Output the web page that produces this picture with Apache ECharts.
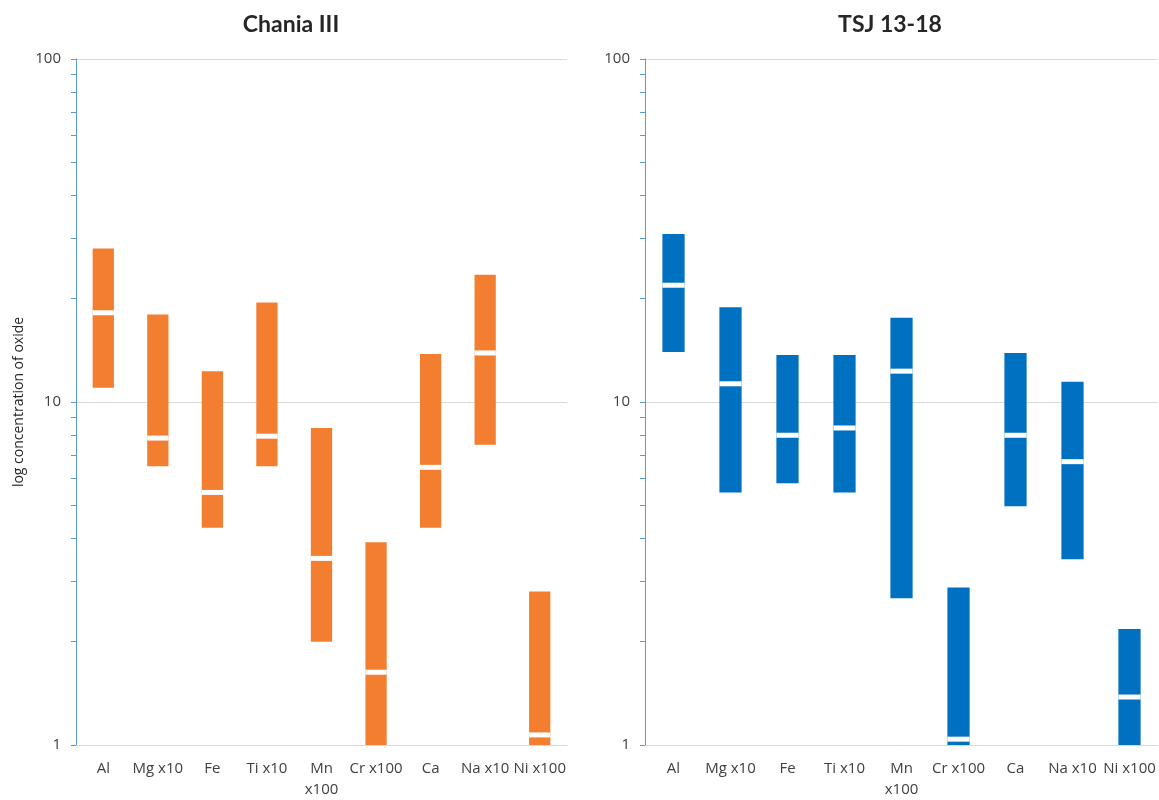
<!DOCTYPE html>
<html>
<head>
<meta charset="utf-8">
<script src="https://cdn.jsdelivr.net/npm/echarts@6/dist/echarts.min.js"></script>
<style>
  html, body { margin: 0; padding: 0; background: #fff; }
  #chart { width: 1159px; height: 800px; }
</style>
</head>
<body>
<div id="chart"></div>
<script>
const categories = ['Al', 'Mg x10', 'Fe', 'Ti x10', 'Mn\nx100', 'Cr x100', 'Ca', 'Na x10', 'Ni x100'];

// Chania III: min, middle mark, max
const chaniaLow  = [11.0, 6.5, 4.3, 6.5, 2.0, 1.0, 4.3, 7.5, 1.0];
const chaniaMid  = [18.2, 7.85, 5.45, 7.95, 3.5, 1.63, 6.45, 13.9, 1.07];
const chaniaHigh = [28.0, 18.0, 12.3, 19.5, 8.4, 3.9, 13.8, 23.5, 2.8];

// TSJ 13-18: min, middle mark, max
const tsjLow  = [14.0, 5.45, 5.8, 5.45, 2.68, 1.0, 4.97, 3.48, 1.0];
const tsjMid  = [21.9, 11.3, 8.0, 8.4, 12.3, 1.04, 8.0, 6.7, 1.38];
const tsjHigh = [30.9, 18.9, 13.7, 13.7, 17.6, 2.88, 13.9, 11.45, 2.18];

// minor + major tick positions on the log axis
const yTicks = [1, 2, 3, 4, 5, 6, 7, 8, 9, 10, 20, 30, 40, 50, 60, 70, 80, 90, 100];

const FONT = '"Open Sans", sans-serif';

function rows(low, mid, high) {
  return categories.map((c, i) => [i, low[i], mid[i], high[i]]);
}

function rangeRenderer(color) {
  return function (params, api) {
    const x = api.value(0);
    const lo = api.coord([x, api.value(1)]);
    const md = api.coord([x, api.value(2)]);
    const hi = api.coord([x, api.value(3)]);
    const w = api.size([1, 1])[0] * 0.39;
    return {
      type: 'group',
      children: [
        { type: 'rect', shape: { x: lo[0] - w / 2, y: hi[1], width: w, height: lo[1] - hi[1] }, style: { fill: color } },
        { type: 'rect', shape: { x: lo[0] - w / 2, y: md[1] - 2.5, width: w, height: 5 }, style: { fill: '#fff' } }
      ]
    };
  };
}

function makeYAxis(gridIndex, name) {
  return {
    type: 'log',
    gridIndex: gridIndex,
    position: 'left',
    min: 1,
    max: 100,
    logBase: 10,
    name: name,
    nameLocation: 'middle',
    nameGap: 50,
    nameTextStyle: { fontFamily: FONT, fontSize: 14, color: '#262626' },
    axisLine: { show: true, lineStyle: { color: '#5b9bd5', width: 1 } },
    axisTick: { show: true, length: 5, lineStyle: { color: '#5b9bd5' } },
    axisLabel: { fontFamily: FONT, fontSize: 15, color: '#404040', margin: 15 },
    splitLine: { show: true, lineStyle: { color: '#d9d9d9', width: 1 } }
  };
}

// overlay axis that only draws the minor ticks
function makeTickAxis(gridIndex) {
  return {
    type: 'log',
    gridIndex: gridIndex,
    position: 'left',
    offset: 0,
    min: 1,
    max: 100,
    logBase: 10,
    axisLine: { show: false },
    axisTick: { show: true, length: 5, lineStyle: { color: '#5b9bd5' }, customValues: yTicks },
    axisLabel: { show: false },
    splitLine: { show: false }
  };
}

function makeXAxis(gridIndex) {
  return {
    type: 'category',
    gridIndex: gridIndex,
    data: categories,
    axisLine: { show: true, lineStyle: { color: '#d9d9d9' } },
    axisTick: { show: false },
    axisLabel: { fontFamily: FONT, fontSize: 15, color: '#404040', margin: 13, lineHeight: 21, interval: 0 }
  };
}

const chart = echarts.init(document.getElementById('chart'), null, { renderer: 'canvas' });

chart.setOption({
  animation: false,
  backgroundColor: '#fff',
  title: [
    { text: 'Chania III', left: 286, top: 8, textAlign: 'center',
      textStyle: { fontFamily: 'Lato, sans-serif', fontSize: 23, fontWeight: 'bold', color: '#262626' } },
    { text: 'TSJ 13-18', left: 885, top: 8, textAlign: 'center',
      textStyle: { fontFamily: 'Lato, sans-serif', fontSize: 23, fontWeight: 'bold', color: '#262626' } }
  ],
  grid: [
    { left: 76, width: 491, top: 59, height: 690 },
    { left: 645, width: 513, top: 59, height: 690 }
  ],
  xAxis: [makeXAxis(0), makeXAxis(1)],
  yAxis: [
    makeYAxis(0, 'log concentration of oxide'),
    makeYAxis(1, ''),
    makeTickAxis(0),
    makeTickAxis(1)
  ],
  series: [
    {
      type: 'custom',
      name: 'Chania III',
      xAxisIndex: 0,
      yAxisIndex: 0,
      renderItem: rangeRenderer('#f47e30'),
      encode: { x: 0, y: [1, 2, 3] },
      data: rows(chaniaLow, chaniaMid, chaniaHigh)
    },
    {
      type: 'custom',
      name: 'TSJ 13-18',
      xAxisIndex: 1,
      yAxisIndex: 1,
      renderItem: rangeRenderer('#0070c0'),
      encode: { x: 0, y: [1, 2, 3] },
      data: rows(tsjLow, tsjMid, tsjHigh)
    }
  ]
});
</script>
</body>
</html>
